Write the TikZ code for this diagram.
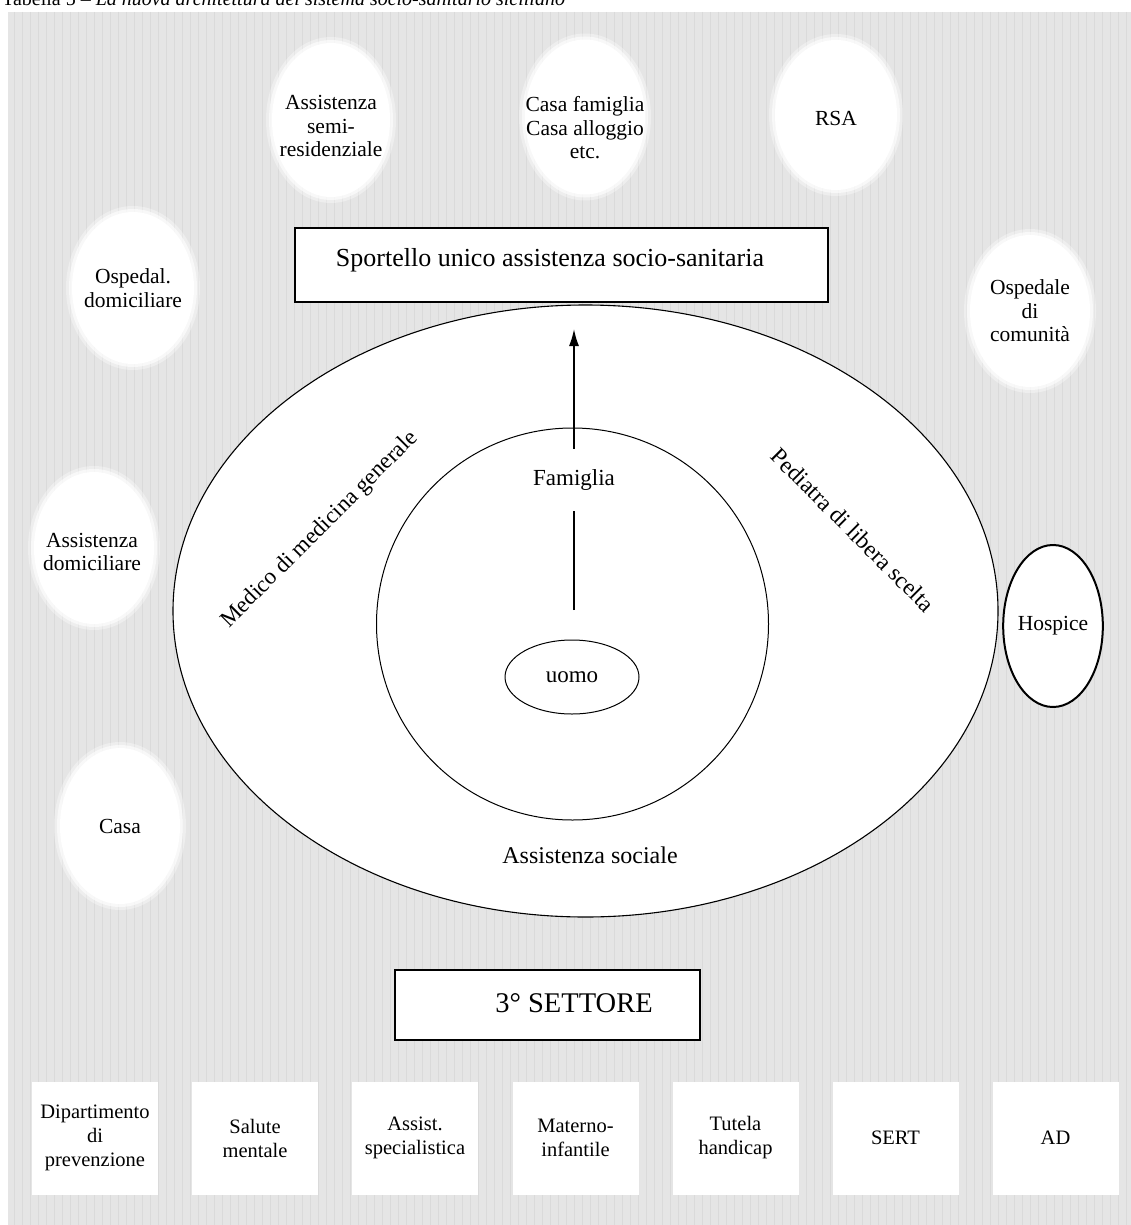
\documentclass[tikz,border=0pt]{standalone}
\usepackage{fontspec}
\setmainfont{Liberation Serif}
\usetikzlibrary{shapes.geometric,arrows.meta}
\definecolor{bggray}{RGB}{229,229,229}
\definecolor{stripe}{RGB}{218,218,218}
\tikzset{
  softell/.style={ellipse, inner sep=0pt, fill=white,
    preaction={draw=white, line width=12pt, draw opacity=0.35},
    preaction={draw=white, line width=6pt, draw opacity=0.6}},
  lbl/.style={align=center, inner sep=0pt, font=\fontsize{21.5}{23.5}\selectfont},
  bbox/.style={rectangle, fill=white, inner sep=0pt, minimum width=126pt, minimum height=113pt,
    align=center, font=\fontsize{20.5}{24}\selectfont},
  framebox/.style={rectangle, draw=black, line width=1.5pt, fill=white, inner sep=0pt},
  ring/.style={ellipse, draw=black, line width=1.1pt, fill=white, inner sep=0pt},
  big/.style={font=\fontsize{23}{26}\selectfont, inner sep=0pt}
}
\begin{document}
\begin{tikzpicture}[x=1pt,y=-1pt]
\useasboundingbox (0,0) rectangle (1131,1225);
% caption (cut at the top)
\node[anchor=base west, inner sep=0pt, font=\fontsize{20}{22}\selectfont] (cap) at (2,6)
  {Tabella 5 -- \textit{La nuova architettura del sistema socio-sanitario siciliano}};
% background with faint vertical texture
\fill[bggray] (8,12) rectangle (1131,1225);
\foreach \sx in {14,22,...,1130} {
  \draw[stripe, line width=0.8pt] (\sx,12) -- (\sx,1225);
}

% outer white ellipses
\node[softell, minimum width=118pt, minimum height=154pt] (semi) at (331,120) {};
\node[lbl] at (331,126) {Assistenza\\semi-\\residenziale};
\node[softell, minimum width=120pt, minimum height=155pt] (casaf) at (585,117) {};
\node[lbl] at (585,128) {Casa famiglia\\Casa alloggio\\etc.};
\node[softell, minimum width=122pt, minimum height=150pt] (rsa) at (836,115) {};
\node[lbl] at (836,118) {RSA};
\node[softell, minimum width=122pt, minimum height=152pt] (ospdom) at (133,288) {};
\node[lbl] at (ospdom) {Ospedal.\\domiciliare};
\node[softell, minimum width=120pt, minimum height=152pt] (ospcom) at (1030,311) {};
\node[lbl] at (ospcom) {Ospedale\\di\\comunità};
\node[softell, minimum width=120pt, minimum height=152pt] (assdom) at (94,548) {};
\node[lbl] at (92,552) {Assistenza\\domiciliare};
\node[softell, minimum width=120pt, minimum height=156pt] (casa) at (120,826) {};
\node[lbl] at (casa) {Casa};
\node[ellipse, draw=black, line width=2pt, fill=white, inner sep=0pt,
      minimum width=96pt, minimum height=162pt, font=\fontsize{21.5}{24}\selectfont] (hospice) at (1053,626) {Hospice};

% central structure
\node[ring, minimum width=825pt, minimum height=612pt] (outer) at (585.5,611) {};
\node[ring, minimum width=392pt, minimum height=392pt, line width=1pt] (inner) at (572.5,624) {};
\node[ring, line width=1pt, minimum width=134pt, minimum height=74pt, font=\fontsize{23}{26}\selectfont] (uomo) at (572,677) {uomo};
\node[framebox, minimum width=533pt, minimum height=74pt] (sport) at (561.5,265) {};
\node[inner sep=0pt, font=\fontsize{26}{30}\selectfont] at (550,260) {Sportello unico assistenza socio-sanitaria};

\node[big, minimum height=62pt] (fam) at (574,480) {Famiglia};
\node[big, font=\fontsize{24}{26}\selectfont] (asoc) at (590,855) {Assistenza sociale};
\node[big, rotate=45] (medico) at (320,530) {Medico di medicina generale};
\node[big, rotate=-45, font=\fontsize{23.5}{26}\selectfont] (pediatra) at (853,530) {Pediatra di libera scelta};

\coordinate (abot) at (574,610);
\coordinate (atop) at (574,329);
\draw[line width=1.6pt] (abot) -- (fam);
\draw[line width=1.6pt, -{Latex[length=17pt,width=10pt]}] (fam) -- (atop);

% third sector
\node[framebox, minimum width=305pt, minimum height=70pt] (terzo) at (547.5,1005) {};
\node[inner sep=0pt, font=\fontsize{28.5}{30}\selectfont] at (574,1003) {3° SETTORE};

% bottom boxes
\node[bbox] (b1) at (95,1138) {Dipartimento\\di\\prevenzione};
\node[bbox] (b2) at (255,1138) {Salute\\mentale};
\node[bbox] (b3) at (415,1138) {Assist.\\specialistica};
\node[bbox] (b4) at (575.5,1138) {Materno-\\infantile};
\node[bbox] (b5) at (735.5,1138) {Tutela\\handicap};
\node[bbox] (b6) at (895.5,1138) {SERT};
\node[bbox] (b7) at (1055.5,1138) {AD};
\end{tikzpicture}
\end{document}
